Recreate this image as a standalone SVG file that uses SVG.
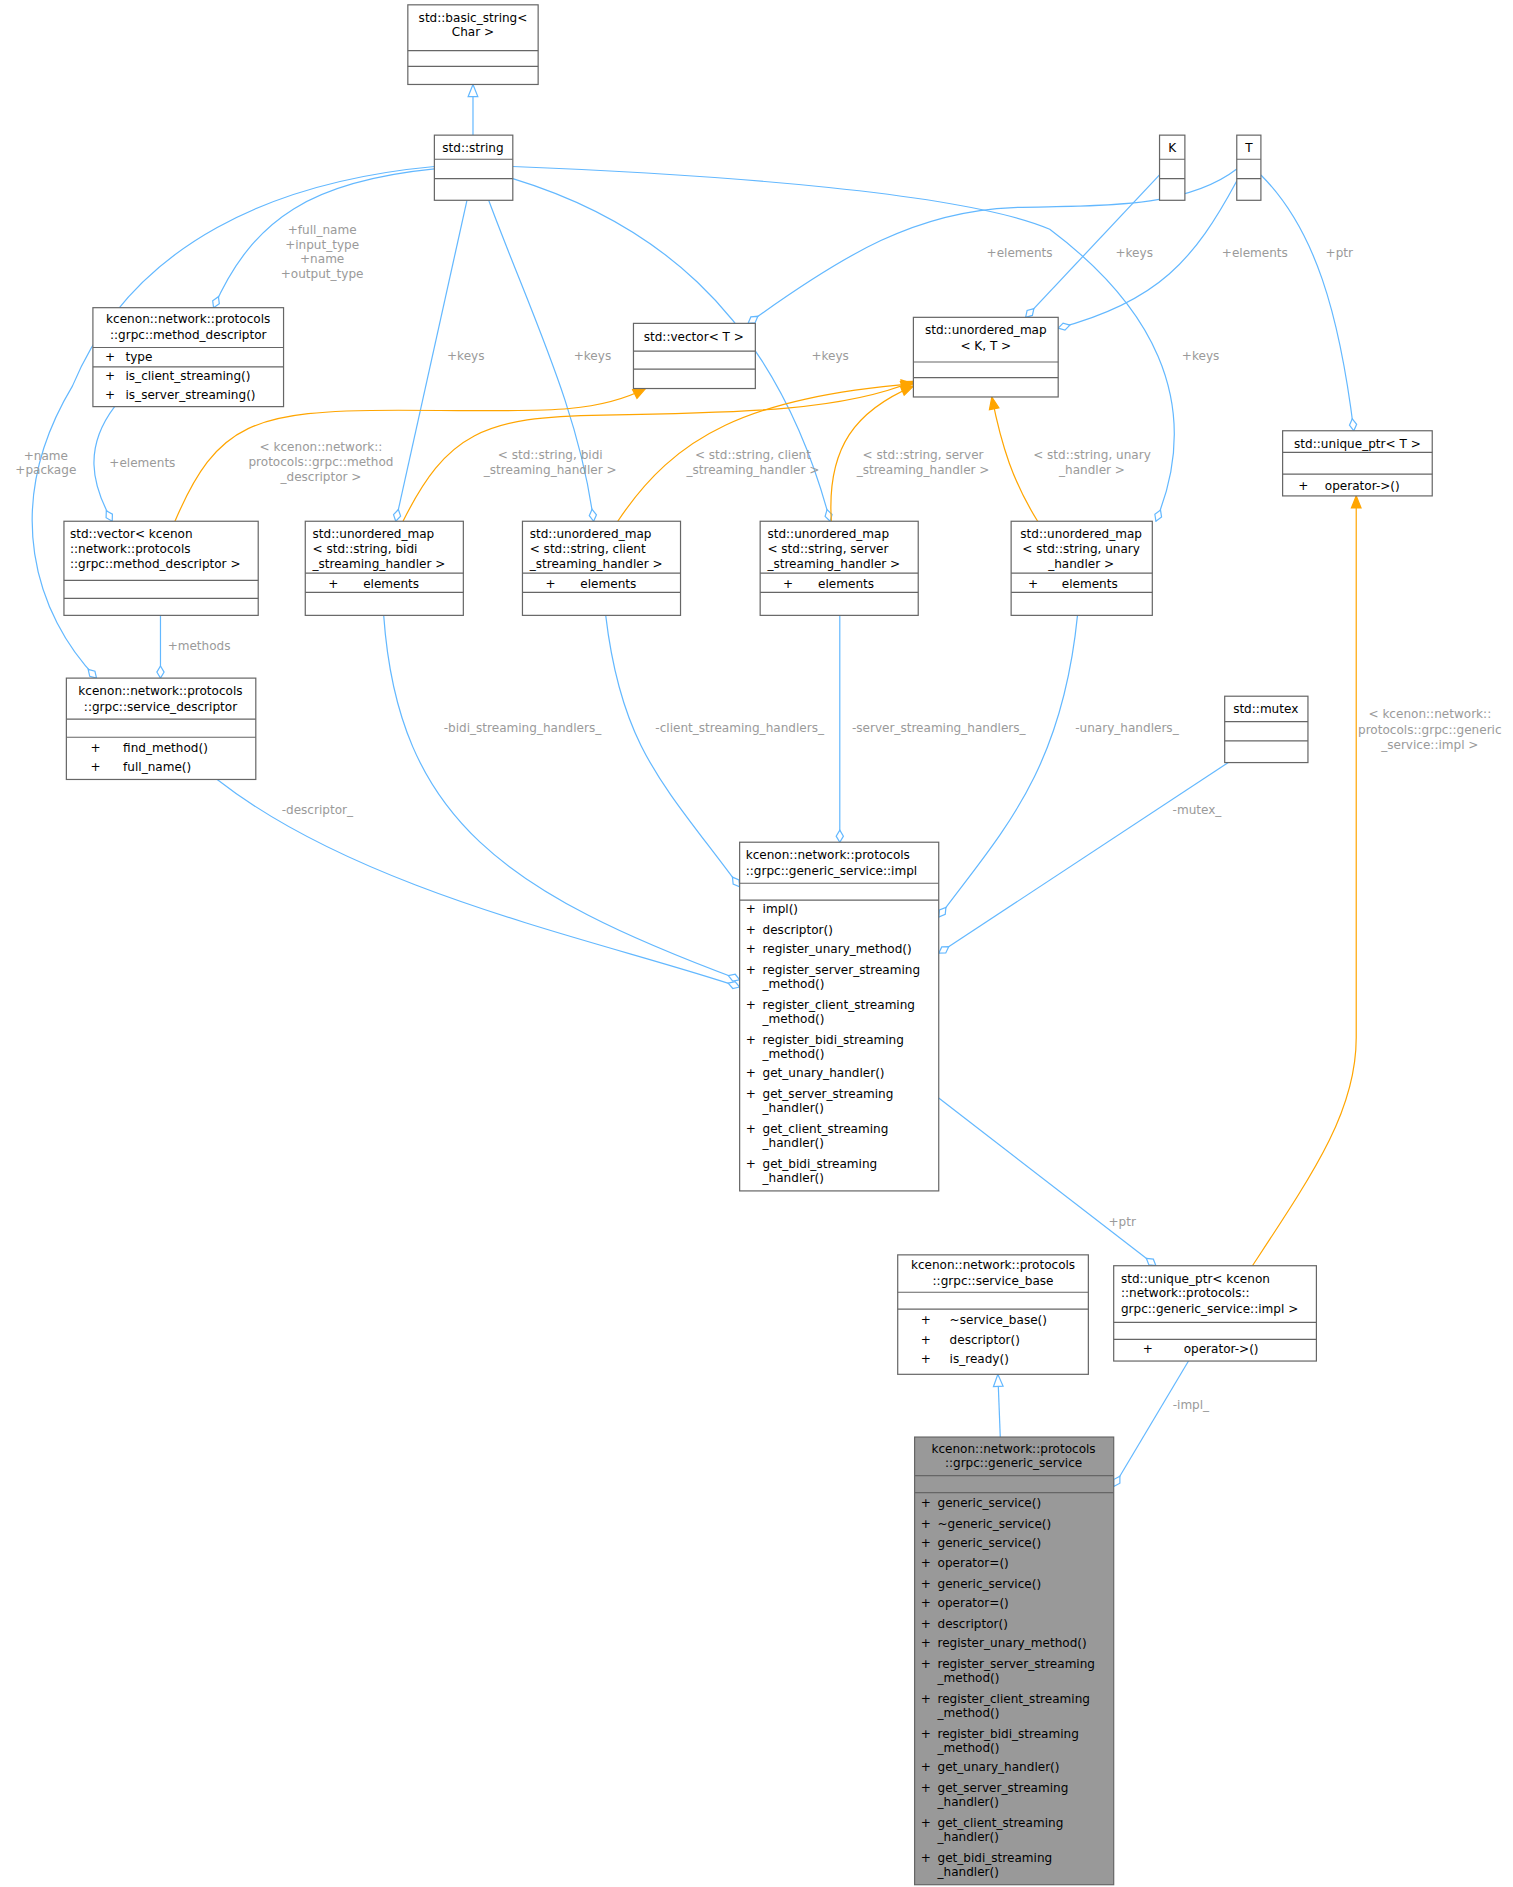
<svg xmlns="http://www.w3.org/2000/svg" width="1513" height="1887" viewBox="0 0 1513 1887">
<style>
text{font-family:"DejaVu Sans","Liberation Sans",sans-serif;font-size:10px;fill:#000}
.c{text-anchor:middle}
.l{fill:#9a9a9a}
.b{fill:#fff;stroke:#666;stroke-width:1}
.g{fill:#999;stroke:#666;stroke-width:1}
.s{stroke:#666;stroke-width:1}
.e{fill:none;stroke:#63b8ff;stroke-width:1}
.o{fill:none;stroke:#ffa500;stroke-width:1}
</style>
<defs>
<marker id="dia" viewBox="-1 -4 12 8" refX="10" refY="0" markerWidth="12" markerHeight="8" orient="auto" markerUnits="userSpaceOnUse"><path d="M0,0 L5,-3 L10,0 L5,3 Z" fill="#fff" stroke="#63b8ff"/></marker>
<marker id="inh" viewBox="-1 -5 12 10" refX="10" refY="0" markerWidth="12" markerHeight="10" orient="auto" markerUnits="userSpaceOnUse"><path d="M0,-4 L10,0 L0,4 Z" fill="#fff" stroke="#63b8ff"/></marker>
<marker id="tpl" viewBox="-1 -5 12 10" refX="10" refY="0" markerWidth="12" markerHeight="10" orient="auto" markerUnits="userSpaceOnUse"><path d="M0,-4 L10,0 L0,4 Z" fill="#ffa500" stroke="#ffa500"/></marker>
</defs>
<rect width="1513" height="1887" fill="#fff"/>
<g transform="scale(1.2066)">
<g id="edges">
<path class="e" d="M392,112 L392,70" marker-end="url(#inh)"/>
<path class="e" d="M360,140 C260,150 210,180 177,255" marker-end="url(#dia)"/>
<path class="e" d="M360,138 C230,150 110,200 60,320 C0,420 30,510 80,562" marker-end="url(#dia)"/>
<path class="e" d="M387,166 L328,432" marker-end="url(#dia)"/>
<path class="e" d="M405,166 C440,260 480,340 492,432" marker-end="url(#dia)"/>
<path class="e" d="M425,148 C530,180 640,250 688,432" marker-end="url(#dia)"/>
<path class="e" d="M425,138 C600,145 800,160 870,190 C950,250 1000,330 958,432" marker-end="url(#dia)"/>
<path class="e" d="M1025,140 C980,175 900,170 840,172 C760,175 700,210 620,268" marker-end="url(#dia)"/>
<path class="e" d="M961,145 L850,263" marker-end="url(#dia)"/>
<path class="e" d="M1025,150 C990,215 960,250 877,272" marker-end="url(#dia)"/>
<path class="e" d="M1045,145 C1090,190 1110,260 1122,357" marker-end="url(#dia)"/>
<path class="e" d="M95,337 C70,370 75,400 93,432" marker-end="url(#dia)"/>
<path class="e" d="M133,510 L133,562" marker-end="url(#dia)"/>
<path class="e" d="M180,646 C300,740 500,780 613,818" marker-end="url(#dia)"/>
<path class="e" d="M318,510 C330,680 420,740 613,812" marker-end="url(#dia)"/>
<path class="e" d="M502,510 C515,620 550,650 613,735" marker-end="url(#dia)"/>
<path class="e" d="M696,510 L696,698" marker-end="url(#dia)"/>
<path class="e" d="M893,510 C880,640 830,690 778,760" marker-end="url(#dia)"/>
<path class="e" d="M1018,632 L778,790" marker-end="url(#dia)"/>
<path class="e" d="M778,910 L958,1049" marker-end="url(#dia)"/>
<path class="e" d="M829,1191 L827,1139" marker-end="url(#inh)"/>
<path class="e" d="M985,1128 L923,1232" marker-end="url(#dia)"/>
<path class="o" d="M145,432 C180,350 210,340 330,340 C440,340 490,345 535,322" marker-end="url(#tpl)"/>
<path class="o" d="M334,432 C370,360 400,345 500,344 C620,342 700,340 757,316" marker-end="url(#tpl)"/>
<path class="o" d="M512,432 C560,360 620,330 757,318" marker-end="url(#tpl)"/>
<path class="o" d="M689,432 C685,370 710,340 757,320" marker-end="url(#tpl)"/>
<path class="o" d="M860,432 C840,400 830,370 822,329" marker-end="url(#tpl)"/>
<path class="o" d="M1038,1049 C1090,970 1124,920 1124,860 L1124,411" marker-end="url(#tpl)"/>
<text class="l c" x="267" y="194">+full_name</text>
<text class="l c" x="267" y="206">+input_type</text>
<text class="l c" x="267" y="218">+name</text>
<text class="l c" x="267" y="230">+output_type</text>
<text class="l c" x="38" y="381">+name</text>
<text class="l c" x="38" y="393">+package</text>
<text class="l c" x="386" y="298">+keys</text>
<text class="l c" x="491" y="298">+keys</text>
<text class="l c" x="688" y="298">+keys</text>
<text class="l c" x="995" y="298">+keys</text>
<text class="l c" x="845" y="213">+elements</text>
<text class="l c" x="940" y="213">+keys</text>
<text class="l c" x="1040" y="213">+elements</text>
<text class="l c" x="1110" y="213">+ptr</text>
<text class="l c" x="118" y="387">+elements</text>
<text class="l c" x="165" y="539">+methods</text>
<text class="l c" x="266" y="374">&lt; kcenon::network::</text>
<text class="l c" x="266" y="386">protocols::grpc::method</text>
<text class="l c" x="266" y="399">_descriptor &gt;</text>
<text class="l c" x="456" y="380">&lt; std::string, bidi</text>
<text class="l c" x="456" y="393">_streaming_handler &gt;</text>
<text class="l c" x="624" y="380">&lt; std::string, client</text>
<text class="l c" x="624" y="393">_streaming_handler &gt;</text>
<text class="l c" x="765" y="380">&lt; std::string, server</text>
<text class="l c" x="765" y="393">_streaming_handler &gt;</text>
<text class="l c" x="905" y="380">&lt; std::string, unary</text>
<text class="l c" x="905" y="393">_handler &gt;</text>
<text class="l c" x="433" y="607">-bidi_streaming_handlers_</text>
<text class="l c" x="613" y="607">-client_streaming_handlers_</text>
<text class="l c" x="778" y="607">-server_streaming_handlers_</text>
<text class="l c" x="934" y="607">-unary_handlers_</text>
<text class="l c" x="263" y="675">-descriptor_</text>
<text class="l c" x="992" y="675">-mutex_</text>
<text class="l c" x="930" y="1016">+ptr</text>
<text class="l c" x="987" y="1168">-impl_</text>
<text class="l c" x="1185" y="595">&lt; kcenon::network::</text>
<text class="l c" x="1185" y="608">protocols::grpc::generic</text>
<text class="l c" x="1185" y="621">_service::impl &gt;</text>
</g>
<g id="basic_string"><rect class="b" x="338" y="4" width="108" height="66"/><path class="s" d="M338,42H446M338,55H446"/><text class="c" x="392" y="18">std::basic_string&lt;</text><text class="c" x="392" y="30">Char &gt;</text></g>
<g id="string"><rect class="b" x="360" y="112" width="65" height="54"/><path class="s" d="M360,132H425M360,148H425"/><text class="c" x="392" y="126">std::string</text></g>
<g id="K"><rect class="b" x="961" y="112" width="21" height="54"/><path class="s" d="M961,132H982M961,148H982"/><text class="c" x="971.5" y="126">K</text></g>
<g id="T"><rect class="b" x="1025" y="112" width="20" height="54"/><path class="s" d="M1025,132H1045M1025,148H1045"/><text class="c" x="1035" y="126">T</text></g>
<g id="method_descriptor"><rect class="b" x="77" y="255" width="158" height="82"/><path class="s" d="M77,288H235M77,304H235"/><text class="c" x="156" y="268">kcenon::network::protocols</text><text class="c" x="156" y="281">::grpc::method_descriptor</text><text x="87" y="299">+</text><text x="104" y="299">type</text><text x="87" y="315">+</text><text x="104" y="315">is_client_streaming()</text><text x="87" y="331">+</text><text x="104" y="331">is_server_streaming()</text></g>
<g id="vector_T"><rect class="b" x="525" y="268" width="101" height="54"/><path class="s" d="M525,291H626M525,306H626"/><text class="c" x="575" y="283">std::vector&lt; T &gt;</text></g>
<g id="umap_KT"><rect class="b" x="757" y="263" width="120" height="66"/><path class="s" d="M757,300H877M757,313H877"/><text class="c" x="817" y="277">std::unordered_map</text><text class="c" x="817" y="290">&lt; K, T &gt;</text></g>
<g id="unique_ptr_T"><rect class="b" x="1063" y="357" width="124" height="54"/><path class="s" d="M1063,375H1187M1063,393H1187"/><text class="c" x="1125" y="371">std::unique_ptr&lt; T &gt;</text><text x="1076" y="406">+</text><text x="1098" y="406">operator-&gt;()</text></g>
<g id="vector_md"><rect class="b" x="53" y="432" width="161" height="78"/><path class="s" d="M53,481H214M53,496H214"/><text x="58" y="446">std::vector&lt; kcenon</text><text x="58" y="458">::network::protocols</text><text x="58" y="471">::grpc::method_descriptor &gt;</text></g>
<g id="umap_bidi"><rect class="b" x="253" y="432" width="131" height="78"/><path class="s" d="M253,475H384M253,491H384"/><text x="259" y="446">std::unordered_map</text><text x="259" y="458">&lt; std::string, bidi</text><text x="259" y="471">_streaming_handler &gt;</text><text x="272" y="487">+</text><text x="301" y="487">elements</text></g>
<g id="umap_client"><rect class="b" x="433" y="432" width="131" height="78"/><path class="s" d="M433,475H564M433,491H564"/><text x="439" y="446">std::unordered_map</text><text x="439" y="458">&lt; std::string, client</text><text x="439" y="471">_streaming_handler &gt;</text><text x="452" y="487">+</text><text x="481" y="487">elements</text></g>
<g id="umap_server"><rect class="b" x="630" y="432" width="131" height="78"/><path class="s" d="M630,475H761M630,491H761"/><text x="636" y="446">std::unordered_map</text><text x="636" y="458">&lt; std::string, server</text><text x="636" y="471">_streaming_handler &gt;</text><text x="649" y="487">+</text><text x="678" y="487">elements</text></g>
<g id="umap_unary"><rect class="b" x="838" y="432" width="117" height="78"/><path class="s" d="M838,475H955M838,491H955"/><text class="c" x="896" y="446">std::unordered_map</text><text class="c" x="896" y="458">&lt; std::string, unary</text><text class="c" x="896" y="471">_handler &gt;</text><text x="852" y="487">+</text><text x="880" y="487">elements</text></g>
<g id="service_descriptor"><rect class="b" x="55" y="562" width="157" height="84"/><path class="s" d="M55,596H212M55,611H212"/><text class="c" x="133" y="576">kcenon::network::protocols</text><text class="c" x="133" y="589">::grpc::service_descriptor</text><text x="75" y="623">+</text><text x="102" y="623">find_method()</text><text x="75" y="639">+</text><text x="102" y="639">full_name()</text></g>
<g id="mutex"><rect class="b" x="1015" y="577" width="69" height="55"/><path class="s" d="M1015,598H1084M1015,614H1084"/><text class="c" x="1049" y="591">std::mutex</text></g>
<g id="impl"><rect class="b" x="613" y="698" width="165" height="289"/><path class="s" d="M613,732H778M613,746H778"/><text x="618" y="712">kcenon::network::protocols</text><text x="618" y="725">::grpc::generic_service::impl</text>
<text x="618" y="757">+</text><text x="632" y="757">impl()</text>
<text x="618" y="774">+</text><text x="632" y="774">descriptor()</text>
<text x="618" y="790">+</text><text x="632" y="790">register_unary_method()</text>
<text x="618" y="807">+</text><text x="632" y="807">register_server_streaming</text><text x="632" y="819">_method()</text>
<text x="618" y="836">+</text><text x="632" y="836">register_client_streaming</text><text x="632" y="848">_method()</text>
<text x="618" y="865">+</text><text x="632" y="865">register_bidi_streaming</text><text x="632" y="877">_method()</text>
<text x="618" y="893">+</text><text x="632" y="893">get_unary_handler()</text>
<text x="618" y="910">+</text><text x="632" y="910">get_server_streaming</text><text x="632" y="922">_handler()</text>
<text x="618" y="939">+</text><text x="632" y="939">get_client_streaming</text><text x="632" y="951">_handler()</text>
<text x="618" y="968">+</text><text x="632" y="968">get_bidi_streaming</text><text x="632" y="980">_handler()</text></g>
<g id="service_base"><rect class="b" x="744" y="1040" width="158" height="99"/><path class="s" d="M744,1071H902M744,1085H902"/><text class="c" x="823" y="1052">kcenon::network::protocols</text><text class="c" x="823" y="1065">::grpc::service_base</text><text x="763" y="1097">+</text><text x="787" y="1097">~service_base()</text><text x="763" y="1114">+</text><text x="787" y="1114">descriptor()</text><text x="763" y="1130">+</text><text x="787" y="1130">is_ready()</text></g>
<g id="unique_ptr_impl"><rect class="b" x="923" y="1049" width="168" height="79"/><path class="s" d="M923,1096H1091M923,1110H1091"/><text x="929" y="1063">std::unique_ptr&lt; kcenon</text><text x="929" y="1075">::network::protocols::</text><text x="929" y="1088">grpc::generic_service::impl &gt;</text><text x="947" y="1121">+</text><text x="981" y="1121">operator-&gt;()</text></g>
<g id="generic_service"><rect class="g" x="758" y="1191" width="165" height="371"/><path class="s" d="M758,1223H923M758,1237H923"/><text class="c" x="840" y="1204">kcenon::network::protocols</text><text class="c" x="840" y="1216">::grpc::generic_service</text>
<text x="763" y="1249">+</text><text x="777" y="1249">generic_service()</text>
<text x="763" y="1266">+</text><text x="777" y="1266">~generic_service()</text>
<text x="763" y="1282">+</text><text x="777" y="1282">generic_service()</text>
<text x="763" y="1299">+</text><text x="777" y="1299">operator=()</text>
<text x="763" y="1316">+</text><text x="777" y="1316">generic_service()</text>
<text x="763" y="1332">+</text><text x="777" y="1332">operator=()</text>
<text x="763" y="1349">+</text><text x="777" y="1349">descriptor()</text>
<text x="763" y="1365">+</text><text x="777" y="1365">register_unary_method()</text>
<text x="763" y="1382">+</text><text x="777" y="1382">register_server_streaming</text><text x="777" y="1394">_method()</text>
<text x="763" y="1411">+</text><text x="777" y="1411">register_client_streaming</text><text x="777" y="1423">_method()</text>
<text x="763" y="1440">+</text><text x="777" y="1440">register_bidi_streaming</text><text x="777" y="1452">_method()</text>
<text x="763" y="1468">+</text><text x="777" y="1468">get_unary_handler()</text>
<text x="763" y="1485">+</text><text x="777" y="1485">get_server_streaming</text><text x="777" y="1497">_handler()</text>
<text x="763" y="1514">+</text><text x="777" y="1514">get_client_streaming</text><text x="777" y="1526">_handler()</text>
<text x="763" y="1543">+</text><text x="777" y="1543">get_bidi_streaming</text><text x="777" y="1555">_handler()</text></g>
</g>
</svg>
